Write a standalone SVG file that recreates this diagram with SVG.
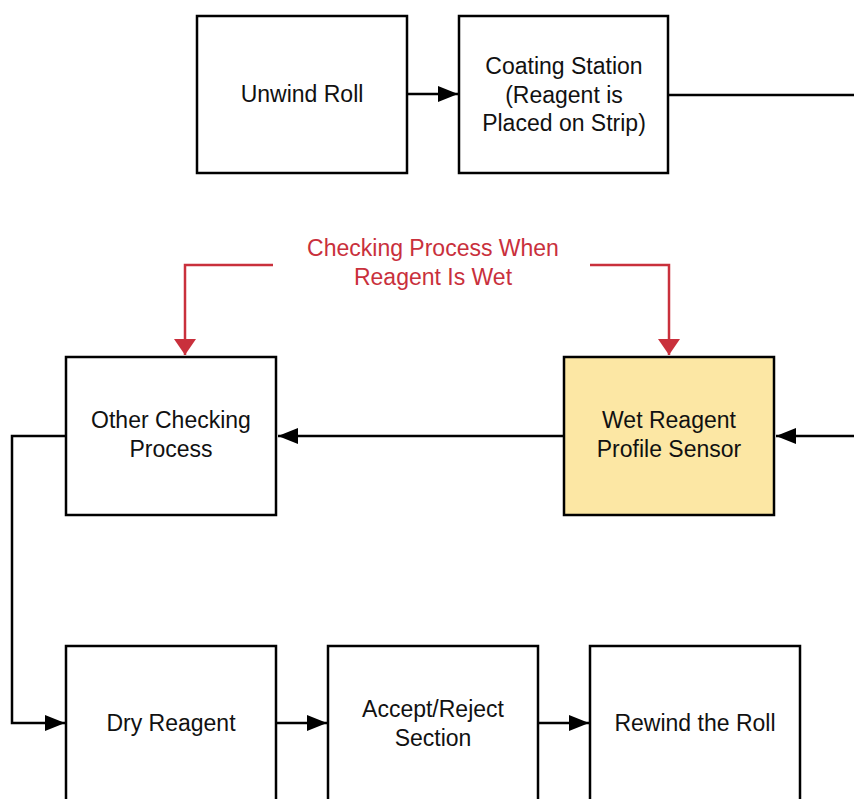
<svg xmlns="http://www.w3.org/2000/svg" width="854" height="799" viewBox="0 0 854 799">
  <defs>
    <marker id="arrow" viewBox="0 0 20 16" refX="20" refY="8" markerWidth="20" markerHeight="16" markerUnits="userSpaceOnUse" orient="auto">
      <path d="M0,0 L20,8 L0,16 Z" fill="#000"/>
    </marker>
    <marker id="arrow-red" viewBox="0 0 16 22" refX="16" refY="11" markerWidth="16" markerHeight="22" markerUnits="userSpaceOnUse" orient="auto">
      <path d="M0,0 L16,11 L0,22 Z" fill="#c9303c"/>
    </marker>
  </defs>
  <style>
    .box { fill: #fff; stroke: #000; stroke-width: 2.5; }
    .hl { fill: #fce7a4; }
    .lbl { font-family: "Liberation Sans", Arial, sans-serif; font-size: 23px; fill: #111; text-anchor: middle; }
    .note { font-family: "Liberation Sans", Arial, sans-serif; font-size: 23px; fill: #c9303c; text-anchor: middle; }
    .wire { fill: none; stroke: #000; stroke-width: 2.5; }
    .wire-red { fill: none; stroke: #c9303c; stroke-width: 2.5; }
  </style>
  <rect width="854" height="799" fill="#fff"/>

  <g id="connectors">
    <path class="wire" d="M407,94 H458" marker-end="url(#arrow)"/>
    <path class="wire" d="M668,95 H854"/>
    <path class="wire" d="M854,436 H776" marker-end="url(#arrow)"/>
    <path class="wire" d="M564,436 H278" marker-end="url(#arrow)"/>
    <path class="wire" d="M66,436 H12 V723 H65" marker-end="url(#arrow)"/>
    <path class="wire" d="M276,723 H327" marker-end="url(#arrow)"/>
    <path class="wire" d="M538,723 H589" marker-end="url(#arrow)"/>
    <path class="wire-red" d="M273,265 H185 V355" marker-end="url(#arrow-red)"/>
    <path class="wire-red" d="M590,265 H669 V355" marker-end="url(#arrow-red)"/>
  </g>

  <g id="unwind-roll">
    <rect class="box" x="197" y="16" width="210" height="157"/>
    <text class="lbl" x="302" y="102">Unwind Roll</text>
  </g>

  <g id="coating-station">
    <rect class="box" x="459" y="16" width="209" height="157"/>
    <text class="lbl" x="564" y="74">Coating Station</text>
    <text class="lbl" x="564" y="103">(Reagent is</text>
    <text class="lbl" x="564" y="131">Placed on Strip)</text>
  </g>

  <g id="note-wet-check">
    <text class="note" x="433" y="256">Checking Process When</text>
    <text class="note" x="433" y="285">Reagent Is Wet</text>
  </g>

  <g id="other-checking">
    <rect class="box" x="66" y="357" width="210" height="158"/>
    <text class="lbl" x="171" y="428">Other Checking</text>
    <text class="lbl" x="171" y="457">Process</text>
  </g>

  <g id="wet-reagent-sensor">
    <rect class="box hl" x="564" y="357" width="210" height="158"/>
    <text class="lbl" x="669" y="428">Wet Reagent</text>
    <text class="lbl" x="669" y="457">Profile Sensor</text>
  </g>

  <g id="dry-reagent">
    <rect class="box" x="66" y="646" width="210" height="170"/>
    <text class="lbl" x="171" y="731">Dry Reagent</text>
  </g>

  <g id="accept-reject">
    <rect class="box" x="328" y="646" width="210" height="170"/>
    <text class="lbl" x="433" y="717">Accept/Reject</text>
    <text class="lbl" x="433" y="746">Section</text>
  </g>

  <g id="rewind-roll">
    <rect class="box" x="590" y="646" width="210" height="170"/>
    <text class="lbl" x="695" y="731">Rewind the Roll</text>
  </g>
</svg>
